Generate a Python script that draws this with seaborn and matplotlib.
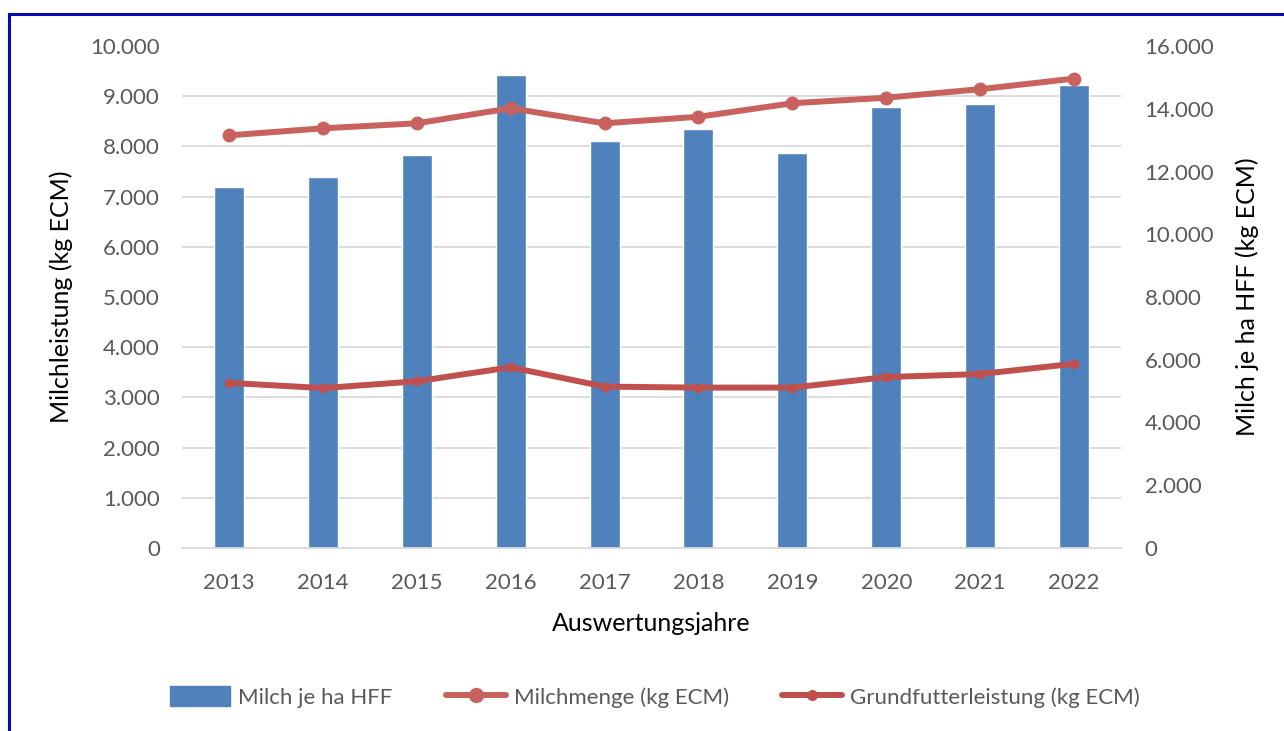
import numpy as np
import pandas as pd
import matplotlib
matplotlib.use("Agg")
import matplotlib.pyplot as plt
import seaborn as sns
from matplotlib.patches import Rectangle, Patch
from matplotlib.lines import Line2D

years = ["2013", "2014", "2015", "2016", "2017", "2018", "2019", "2020", "2021", "2022"]
milch_je_ha = [11500, 11820, 12530, 15080, 12960, 13340, 12580, 14040, 14160, 14750]
milchmenge = [8220, 8360, 8460, 8760, 8460, 8590, 8860, 8970, 9140, 9350]
grundfutter = [3290, 3185, 3320, 3600, 3215, 3195, 3195, 3405, 3465, 3670]

left_ticks = list(range(0, 10001, 1000))
right_ticks = list(range(0, 16001, 2000))

def fmt(v):
    return f"{v:,}".replace(",", ".")

sns.set_theme(style="white")
plt.rcParams["font.family"] = ["Lato", "DejaVu Sans"]

TXT = "#595959"
BAR = "#4F81BD"
L1 = "#C9625E"
L2 = "#C0504D"
GRID = "#D9D9D9"
FS = 16

W, H = 1284, 731
fig = plt.figure(figsize=(W / 100, H / 100), dpi=100)
fig.patches.append(Rectangle((9 / W, -0.1), 1.2, 1 - 14 / H + 0.1, transform=fig.transFigure,
                             fill=False, edgecolor="#0A0AB4", linewidth=2.2))

ax = fig.add_axes([182 / W, 1 - 548 / H, (1121 - 182) / W, (548 - 46) / H])
df = pd.DataFrame({"Jahr": years, "Milch": milch_je_ha})
sns.barplot(data=df, x="Jahr", y="Milch", ax=ax, color=BAR, saturation=1, width=0.32, zorder=2)
ax2 = ax.twinx()

ax.set_ylim(0, 16000)
ax.set_xlim(-0.5, len(years) - 0.5)
ax.yaxis.tick_right()
ax.yaxis.set_label_position("right")
ax.set_yticks(right_ticks)
ax.set_yticklabels([fmt(v) for v in right_ticks])
ax.set_yticks(np.arange(0, 16001, 1600), minor=True)
ax.grid(False)
ax.grid(which="minor", axis="y", color=GRID, linewidth=1.3, zorder=0)
ax.set_axisbelow(True)
ax.tick_params(axis="y", which="both", length=0, labelsize=FS, labelcolor=TXT, pad=17)
ax.tick_params(axis="x", length=0, labelsize=FS, labelcolor=TXT, pad=18)
for s in ["top", "left", "right"]:
    ax.spines[s].set_visible(False)
ax.spines["bottom"].set_color(GRID)
ax.spines["bottom"].set_linewidth(1.3)
ax.set_ylabel("Milch je ha HFF (kg ECM)", fontsize=18, color="black", labelpad=15)
ax.set_xlabel("Auswertungsjahre", fontsize=18, color="black", labelpad=14)

x = np.arange(len(years))
sns.lineplot(x=x, y=milchmenge, ax=ax2, color=L1, linewidth=4.3, marker="o",
             markersize=10, markeredgewidth=0)
sns.lineplot(x=x, y=grundfutter, ax=ax2, color=L2, linewidth=4.3, marker="o",
             markersize=7, markeredgewidth=0)
ax2.set_ylim(0, 10000)
ax2.yaxis.tick_left()
ax2.yaxis.set_label_position("left")
ax2.set_yticks(left_ticks)
ax2.set_yticklabels([fmt(v) for v in left_ticks])
ax2.tick_params(axis="y", length=0, labelsize=FS, labelcolor=TXT, pad=16)
for s in ax2.spines.values():
    s.set_visible(False)
ax2.set_ylabel("Milchleistung (kg ECM)", fontsize=18, color="black", labelpad=12)
ax2.grid(False)

handles = [
    Patch(facecolor=BAR, edgecolor=BAR),
    Line2D([0], [0], color=L1, linewidth=4.3, marker="o", markersize=10),
    Line2D([0], [0], color=L2, linewidth=4.3, marker="o", markersize=7),
]
labels = ["Milch je ha HFF", "Milchmenge (kg ECM)", "Grundfutterleistung (kg ECM)"]
leg = fig.legend(handles, labels, loc="center", bbox_to_anchor=(655 / W, 1 - 697 / H), ncol=3,
                 frameon=False, fontsize=FS, handlelength=2.7, handleheight=1.0,
                 columnspacing=2.4, handletextpad=0.35)
for t in leg.get_texts():
    t.set_color(TXT)

fig.savefig("out.png", dpi=100)
